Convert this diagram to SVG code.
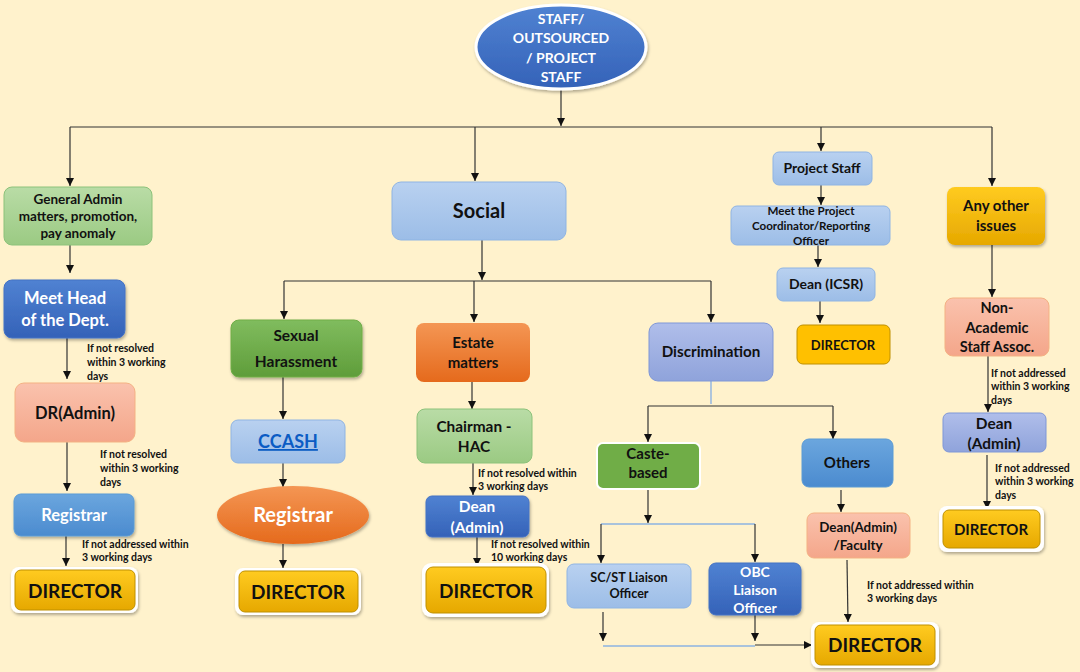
<svg xmlns="http://www.w3.org/2000/svg" width="1080" height="672" viewBox="0 0 1080 672">
<defs>
<linearGradient id="gBlueDark" x1="0" y1="0" x2="0" y2="1"><stop offset="0" stop-color="#5082D2"/><stop offset="1" stop-color="#3462B8"/></linearGradient>
<linearGradient id="gBlueMid" x1="0" y1="0" x2="0" y2="1"><stop offset="0" stop-color="#6BA6DE"/><stop offset="1" stop-color="#4B8BCF"/></linearGradient>
<linearGradient id="gBlueLight" x1="0" y1="0" x2="0" y2="1"><stop offset="0" stop-color="#B9D1F0"/><stop offset="1" stop-color="#9CBDE7"/></linearGradient>
<linearGradient id="gPurple" x1="0" y1="0" x2="0" y2="1"><stop offset="0" stop-color="#B0BEEA"/><stop offset="1" stop-color="#8FA3DB"/></linearGradient>
<linearGradient id="gGreenLight" x1="0" y1="0" x2="0" y2="1"><stop offset="0" stop-color="#B9DCA6"/><stop offset="1" stop-color="#9BCA83"/></linearGradient>
<linearGradient id="gGreenDark" x1="0" y1="0" x2="0" y2="1"><stop offset="0" stop-color="#80BC5E"/><stop offset="1" stop-color="#5F9D3A"/></linearGradient>
<linearGradient id="gSalmon" x1="0" y1="0" x2="0" y2="1"><stop offset="0" stop-color="#FAC2AD"/><stop offset="1" stop-color="#F4A68A"/></linearGradient>
<linearGradient id="gOrange" x1="0" y1="0" x2="0" y2="1"><stop offset="0" stop-color="#F49654"/><stop offset="1" stop-color="#E56A1C"/></linearGradient>
<linearGradient id="gGold" x1="0" y1="0" x2="0" y2="1"><stop offset="0" stop-color="#FFCB20"/><stop offset="1" stop-color="#E6A800"/></linearGradient>
<filter id="sh" x="-20%" y="-20%" width="140%" height="150%"><feDropShadow dx="1" dy="2" stdDeviation="1.5" flood-color="#000" flood-opacity="0.3"/></filter>
<marker id="arr" markerWidth="8" markerHeight="8" refX="8" refY="4" orient="auto" markerUnits="userSpaceOnUse"><path d="M0,0 L8,4 L0,8 z" fill="#111"/></marker>
</defs>
<style>
text{font-family:Lato,"Liberation Sans",sans-serif;font-weight:bold;text-anchor:middle;fill:#111}
.w{fill:#fff}
.lbl{font-size:10.5px;text-anchor:start}
.c{fill:none;stroke:#333;stroke-width:1.2}
.cb{fill:none;stroke:#8DB3E2;stroke-width:1.4}
.a{marker-end:url(#arr)}
.dirframe{fill:#fff;filter:url(#sh)}
.dir{fill:url(#gGold);stroke:#BF9000;stroke-width:1}
</style>
<rect width="1080" height="672" fill="#FFF2CC"/>

<g id="connectors">
<path class="c a" d="M561,88 V126"/>
<path class="c" d="M70,127 H992"/>
<path class="c a" d="M70,127 V186"/>
<path class="c a" d="M475,127 V181"/>
<path class="c a" d="M821,127 V151"/>
<path class="c a" d="M992,127 V186"/>
<path class="c a" d="M70,245 V273"/>
<path class="c a" d="M67,338 V379"/>
<path class="c a" d="M67,437 V491"/>
<path class="c a" d="M66,533 V566"/>
<path class="c a" d="M482,240 V280"/>
<path class="c" d="M284,281 H711"/>
<path class="c a" d="M284,281 V319"/>
<path class="c a" d="M474,281 V322"/>
<path class="c a" d="M711,281 V322"/>
<path class="c a" d="M283,377 V419"/>
<path class="c a" d="M283,463 V487"/>
<path class="c a" d="M283,544 V568"/>
<path class="c a" d="M472,382 V409"/>
<path class="c a" d="M473,463 V495"/>
<path class="c a" d="M477,537 V566"/>
<path class="cb" d="M711,381 V404"/>
<path class="c" d="M648,406 H833"/>
<path class="c a" d="M648,406 V442"/>
<path class="c a" d="M833,406 V439"/>
<path class="c a" d="M648,489 V523"/>
<path class="cb" d="M601,524 H755"/>
<path class="c a" d="M601,524 V563"/>
<path class="c a" d="M755,524 V562"/>
<path class="c a" d="M603,612 V641"/>
<path class="c a" d="M755,615 V641"/>
<path class="cb" d="M603,646 H755"/>
<path class="c a" d="M755,645 H812"/>
<path class="c a" d="M841,490 V512"/>
<path class="c a" d="M847,560 L848,622"/>
<path class="c a" d="M821,185 V205"/>
<path class="c a" d="M818,240 V267"/>
<path class="c a" d="M820,301 V323"/>
<path class="c a" d="M992,245 V297"/>
<path class="c a" d="M988,356 V412"/>
<path class="c a" d="M987,455 V509"/>
<text class="lbl" x="87" y="352">If not resolved</text>
<text class="lbl" x="87" y="366">within 3 working</text>
<text class="lbl" x="87" y="380">days</text>
<text class="lbl" x="100" y="458">If not resolved</text>
<text class="lbl" x="100" y="472">within 3 working</text>
<text class="lbl" x="100" y="486">days</text>
<text class="lbl" x="82" y="548">If not addressed within</text>
<text class="lbl" x="82" y="561">3 working days</text>
<text class="lbl" x="478" y="477">If not resolved within</text>
<text class="lbl" x="478" y="490">3 working days</text>
<text class="lbl" x="491" y="548">If not resolved within</text>
<text class="lbl" x="491" y="561">10 working days</text>
<text class="lbl" x="867" y="589">If not addressed within</text>
<text class="lbl" x="867" y="602">3 working days</text>
<text class="lbl" x="991" y="377">If not addressed</text>
<text class="lbl" x="991" y="390">within 3 working</text>
<text class="lbl" x="991" y="404">days</text>
<text class="lbl" x="995" y="472">If not addressed</text>
<text class="lbl" x="995" y="485">within 3 working</text>
<text class="lbl" x="995" y="499">days</text>
</g>

<g id="root">
<ellipse cx="561" cy="47" rx="85" ry="42" fill="url(#gBlueDark)" stroke="#fff" stroke-width="3" filter="url(#sh)"/>
<text class="w" x="561" y="24" font-size="14">STAFF/</text>
<text class="w" x="561" y="43" font-size="14">OUTSOURCED</text>
<text class="w" x="561" y="63" font-size="14">/ PROJECT</text>
<text class="w" x="561" y="82" font-size="14">STAFF</text>
</g>

<g id="general-admin">
<rect x="4" y="187" width="148" height="58" rx="8" fill="url(#gGreenLight)" stroke="#8CC27A"/>
<text x="78" y="204" font-size="13.5">General Admin</text>
<text x="78" y="221" font-size="13.5">matters, promotion,</text>
<text x="78" y="238" font-size="13.5">pay anomaly</text>
</g>
<g id="meet-head">
<rect x="4" y="280" width="121" height="58" rx="8" fill="url(#gBlueDark)" stroke="#4472C4" filter="url(#sh)"/>
<text class="w" x="65" y="304" font-size="16.5">Meet Head</text>
<text class="w" x="65" y="326" font-size="16.5">of the Dept.</text>
</g>
<g id="dr-admin">
<rect x="15" y="383" width="120" height="59" rx="9" fill="url(#gSalmon)" stroke="#F4B183"/>
<text x="75" y="419" font-size="16.5" font-weight="normal">DR(Admin)</text>
</g>
<g id="registrar-1">
<rect x="14" y="494" width="120" height="42" rx="7" fill="url(#gBlueMid)" stroke="#5B9BD5" filter="url(#sh)"/>
<text class="w" x="74" y="521" font-size="16.5">Registrar</text>
</g>
<g id="director-1">
<rect class="dirframe" x="11" y="567" width="127" height="46" rx="8"/>
<rect class="dir" x="15" y="570" width="120" height="40" rx="6"/>
<text x="75" y="598" font-size="19">DIRECTOR</text>
</g>

<g id="social">
<rect x="392" y="182" width="174" height="58" rx="9" fill="url(#gBlueLight)" stroke="#8FB4E3"/>
<text x="479" y="218" font-size="20">Social</text>
</g>
<g id="sexual-harassment">
<rect x="231" y="320" width="131" height="57" rx="8" fill="url(#gGreenDark)" stroke="#70AD47" filter="url(#sh)"/>
<text x="296" y="341" font-size="15.5">Sexual</text>
<text x="296" y="367" font-size="15.5">Harassment</text>
</g>
<g id="ccash">
<rect x="231" y="420" width="114" height="43" rx="7" fill="url(#gBlueLight)" stroke="#8FB4E3"/>
<text x="288" y="448" font-size="18" text-decoration="underline" style="fill:#0B5CC4">CCASH</text>
</g>
<g id="registrar-2">
<ellipse cx="293" cy="515" rx="76" ry="29" fill="url(#gOrange)" filter="url(#sh)"/>
<text class="w" x="293" y="522" font-size="20">Registrar</text>
</g>
<g id="director-2">
<rect class="dirframe" x="235" y="568" width="126" height="47" rx="8"/>
<rect class="dir" x="239" y="571" width="119" height="41" rx="6"/>
<text x="298" y="599" font-size="19">DIRECTOR</text>
</g>

<g id="estate">
<rect x="416" y="323" width="114" height="59" rx="8" fill="url(#gOrange)"/>
<text x="473" y="348" font-size="15">Estate</text>
<text x="473" y="368" font-size="15">matters</text>
</g>
<g id="chairman-hac">
<rect x="417" y="409" width="115" height="54" rx="8" fill="url(#gGreenLight)" stroke="#8CC27A"/>
<text x="474" y="432" font-size="15.4">Chairman -</text>
<text x="474" y="452" font-size="15.4">HAC</text>
</g>
<g id="dean-admin-1">
<rect x="426" y="496" width="103" height="41" rx="6" fill="url(#gBlueDark)" stroke="#4472C4" filter="url(#sh)"/>
<text class="w" x="477" y="512" font-size="15.4">Dean</text>
<text class="w" x="477" y="533" font-size="15.4">(Admin)</text>
</g>
<g id="director-3">
<rect class="dirframe" x="422" y="563" width="127" height="54" rx="9"/>
<rect class="dir" x="426" y="567" width="120" height="46" rx="7"/>
<text x="486" y="598" font-size="19">DIRECTOR</text>
</g>

<g id="discrimination">
<rect x="649" y="323" width="124" height="58" rx="9" fill="url(#gPurple)" stroke="#7F97D7"/>
<text x="711" y="357" font-size="15.2">Discrimination</text>
</g>
<g id="caste-based">
<rect x="597" y="443" width="103" height="46" rx="6" fill="#70AD47" stroke="#fff" stroke-width="2"/>
<text x="648" y="459" font-size="15">Caste-</text>
<text x="648" y="478" font-size="15">based</text>
</g>
<g id="others">
<rect x="802" y="439" width="91" height="48" rx="7" fill="url(#gBlueMid)" stroke="#5B9BD5"/>
<text x="847" y="468" font-size="15">Others</text>
</g>
<g id="scst-liaison">
<rect x="567" y="564" width="124" height="44" rx="7" fill="url(#gBlueLight)" stroke="#8FB4E3"/>
<text x="629" y="582" font-size="12.6">SC/ST Liaison</text>
<text x="629" y="598" font-size="12.6">Officer</text>
</g>
<g id="obc-liaison">
<rect x="709" y="563" width="92" height="52" rx="7" fill="url(#gBlueDark)" stroke="#4472C4" filter="url(#sh)"/>
<text class="w" x="755" y="577" font-size="14">OBC</text>
<text class="w" x="755" y="595" font-size="14">Liaison</text>
<text class="w" x="755" y="613" font-size="14">Officer</text>
</g>
<g id="dean-admin-faculty">
<rect x="807" y="513" width="103" height="45" rx="7" fill="url(#gSalmon)" stroke="#F4B183"/>
<text x="858" y="532" font-size="13.4">Dean(Admin)</text>
<text x="858" y="550" font-size="13.4">/Faculty</text>
</g>
<g id="director-4">
<rect class="dirframe" x="811" y="622" width="128" height="46" rx="8"/>
<rect class="dir" x="815" y="625" width="120" height="40" rx="6"/>
<text x="875" y="652" font-size="19">DIRECTOR</text>
</g>

<g id="project-staff">
<rect x="773" y="152" width="99" height="33" rx="6" fill="url(#gBlueLight)" stroke="#8FB4E3"/>
<text x="822" y="173" font-size="14">Project Staff</text>
</g>
<g id="meet-coordinator">
<rect x="731" y="206" width="159" height="39" rx="6" fill="url(#gBlueLight)" stroke="#8FB4E3"/>
<text x="811" y="215" font-size="11.6">Meet the Project</text>
<text x="811" y="230" font-size="11.6">Coordinator/Reporting</text>
<text x="811" y="245" font-size="11.6">Officer</text>
</g>
<g id="dean-icsr">
<rect x="777" y="268" width="98" height="33" rx="6" fill="url(#gBlueLight)" stroke="#8FB4E3"/>
<text x="826" y="289" font-size="14">Dean (ICSR)</text>
</g>
<g id="director-5">
<rect x="797" y="325" width="93" height="39" rx="6" fill="#FFC000" stroke="#BF9000"/>
<text x="843" y="350" font-size="13">DIRECTOR</text>
</g>

<g id="any-other">
<rect x="947" y="187" width="98" height="58" rx="8" fill="url(#gGold)" filter="url(#sh)"/>
<text x="996" y="211" font-size="15">Any other</text>
<text x="996" y="231" font-size="15">issues</text>
</g>
<g id="non-academic">
<rect x="945" y="298" width="104" height="58" rx="8" fill="url(#gSalmon)" stroke="#F4B183"/>
<text x="997" y="313" font-size="14.5">Non-</text>
<text x="997" y="333" font-size="14.5">Academic</text>
<text x="997" y="352" font-size="14.5">Staff Assoc.</text>
</g>
<g id="dean-admin-2">
<rect x="943" y="413" width="103" height="39" rx="6" fill="url(#gPurple)" stroke="#7F97D7"/>
<text x="994" y="429" font-size="15.4">Dean</text>
<text x="994" y="449" font-size="15.4">(Admin)</text>
</g>
<g id="director-6">
<rect class="dirframe" x="939" y="506" width="105" height="46" rx="8"/>
<rect class="dir" x="943" y="510" width="97" height="38" rx="6"/>
<text x="991" y="535" font-size="15">DIRECTOR</text>
</g>
</svg>
